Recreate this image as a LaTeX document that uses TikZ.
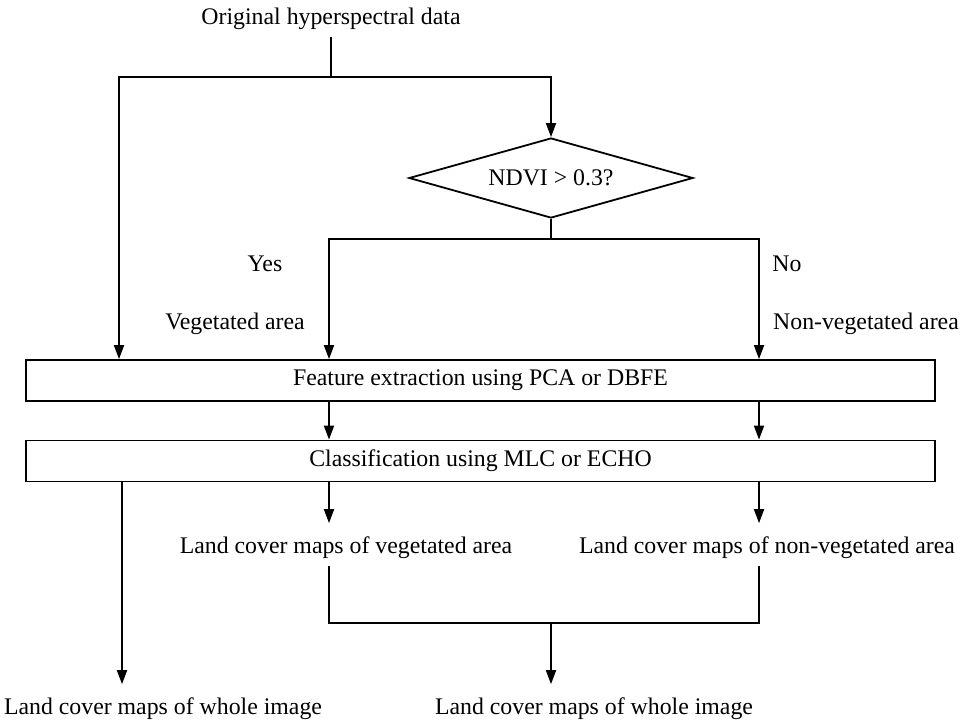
\documentclass[tikz,border=0pt]{standalone}
\usepackage{fontspec}
\setmainfont{Liberation Serif}
\usepackage{tikz}
\usetikzlibrary{arrows.meta}
\usetikzlibrary{shapes.geometric}
\usetikzlibrary{positioning}

\begin{document}
\begin{tikzpicture}[x=0.5pt, y=-0.5pt, line width=0.9pt,
    font=\fontsize{11.9}{13}\selectfont,
    arr/.style={-{Triangle[length=7pt,width=5pt]}},
    tolbl/.style={arr, shorten >=3.5pt},
    box/.style={draw, minimum width=454.5pt, minimum height=20.5pt, inner sep=0pt},
    test/.style={draw, diamond, aspect=3.55, minimum width=142pt, minimum height=40pt, inner sep=0pt},
    lbl/.style={inner sep=3pt}]
    \useasboundingbox (0,0) rectangle (962,719);

    \node[lbl] (src) at (331,19) {Original hyperspectral data};
    \node[test] (ndvi) at (551,178) {NDVI > 0.3?};
    \node[box] (feat) at (480.5,380.5) {Feature extraction using PCA or DBFE};
    \node[box] (cls) at (480.5,461) {Classification using MLC or ECHO};

    \node[lbl] (yes) at (265,264) {Yes};
    \node[lbl] (no) at (787,264) {No};
    \node[lbl] (vega) at (235,324) {Vegetated area};
    \node[lbl] (nvega) at (866,324) {Non-vegetated area};

    \node[lbl] (vegmap) at (346,548) {Land cover maps of vegetated area};
    \node[lbl] (nvegmap) at (767,548) {Land cover maps of non-vegetated area};
    \node[lbl] (whole1) at (163,709) {Land cover maps of whole image};
    \node[lbl] (whole2) at (594,709) {Land cover maps of whole image};

    \coordinate (split1) at (331,77);
    \coordinate (lt) at (119,77);
    \coordinate (split2) at (551,239);
    \coordinate (veg) at (329,239);
    \coordinate (nveg) at (759,239);
    \coordinate (colD) at (122,0);
    \coordinate (join) at (551,623);

    \draw (src.south) -- (split1);
    \draw[arr] (split1) -- (lt) -- (lt |- feat.north);
    \draw[arr] (split1) -| (ndvi.north);
    \draw (ndvi.south) -- (split2);
    \draw[arr] (split2) -- (veg) -- (veg |- feat.north);
    \draw[arr] (split2) -- (nveg) -- (nveg |- feat.north);

    \draw[arr] (veg |- feat.south) -- (veg |- cls.north);
    \draw[arr] (nveg |- feat.south) -- (nveg |- cls.north);

    \draw[tolbl] (colD |- cls.south) -- (colD |- whole1.north);
    \draw[tolbl] (veg |- cls.south) -- (veg |- vegmap.north);
    \draw[tolbl] (nveg |- cls.south) -- (nveg |- nvegmap.north);
    \draw (veg |- vegmap.south) -- (veg |- join) -- (nveg |- join) -- (nveg |- nvegmap.south);
    \draw[tolbl] (join) -- (join |- whole2.north);
\end{tikzpicture}
\end{document}
